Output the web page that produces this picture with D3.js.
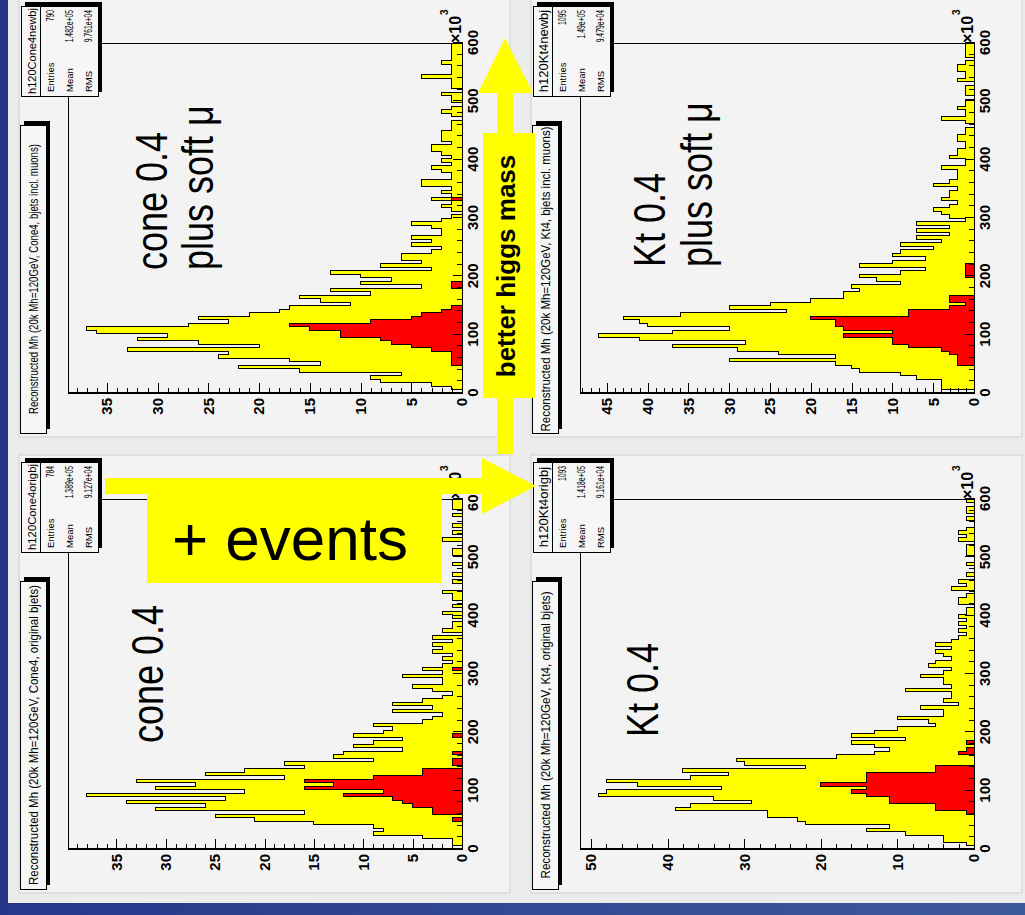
<!DOCTYPE html>
<html>
<head>
<meta charset="utf-8">
<script src="https://cdn.jsdelivr.net/npm/d3@7"></script>
<style>
  body { margin: 0; background: #2a3b88; }
  svg { display: block; }
  text { font-family: "Liberation Sans", Arial, Helvetica, sans-serif; }
</style>
</head>
<body>
<svg id="chart" width="1025" height="915"></svg>
<script>
// bins are 6 (x10^3) wide, 100 bins from 0 to 600
const binWidth = 6;
const massTicks = [0, 100, 200, 300, 400, 500, 600];

// cone 0.4 plus soft mu (all, and red subset)
const coneNewAll = [
  0, 1, 3, 8, 9, 6, 16, 22, 14, 17,
  24, 23, 33, 20, 26, 32, 29, 36, 37, 27,
  23, 26, 21, 18, 17, 11, 14, 16, 9, 13,
  4, 10, 7, 10, 13, 3, 8, 4, 6, 6,
  3, 2, 5, 3, 5, 2, 2, 3, 5, 2,
  1, 0, 1, 2, 1, 3, 1, 2, 1, 4,
  4, 1, 1, 2, 3, 1, 2, 1, 2, 3,
  3, 1, 2, 2, 2, 1, 1, 1, 0, 1,
  2, 1, 0, 1, 1, 2, 0, 1, 1, 1,
  4, 1, 1, 1, 2, 1, 1, 1, 1, 1
];
const coneNewRed = [
  0, 0, 0, 0, 0, 0, 0, 0, 1, 1,
  1, 1, 3, 5, 7, 8, 12, 12, 15, 17,
  9, 5, 4, 2, 1, 0, 0, 0, 0, 0,
  1, 1, 0, 0, 0, 0, 0, 0, 0, 0,
  0, 0, 0, 0, 0, 0, 0, 0, 0, 0,
  0, 0, 0, 0, 0, 1, 0, 0, 0, 0,
  0, 0, 0, 0, 0, 0, 0, 0, 0, 0,
  0, 0, 0, 0, 0, 0, 0, 0, 0, 0,
  0, 0, 0, 0, 0, 0, 0, 0, 0, 0,
  0, 0, 0, 0, 0, 0, 0, 0, 0, 0
];

// Kt 0.4 plus soft mu
const ktNewAll = [
  0, 4, 4, 4, 7, 9, 14, 15, 17, 30,
  17, 24, 29, 37, 28, 41, 46, 37, 30, 40,
  41, 43, 36, 23, 30, 25, 20, 16, 16, 14,
  15, 9, 12, 14, 9, 6, 14, 10, 6, 10,
  9, 5, 9, 4, 7, 3, 7, 3, 7, 1,
  3, 4, 5, 3, 2, 4, 3, 3, 2, 5,
  3, 2, 2, 2, 4, 1, 1, 3, 2, 2,
  1, 1, 2, 2, 1, 1, 0, 1, 4, 1,
  1, 2, 1, 1, 0, 1, 1, 1, 0, 2,
  1, 1, 2, 2, 1, 0, 1, 1, 1, 1
];
const ktNewRed = [
  0, 0, 0, 0, 0, 0, 0, 0, 2, 2,
  2, 3, 4, 8, 10, 10, 16, 10, 16, 17,
  17, 20, 8, 8, 3, 1, 3, 3, 0, 0,
  0, 0, 0, 1, 1, 1, 1, 0, 0, 0,
  0, 0, 0, 0, 0, 0, 0, 0, 0, 0,
  0, 0, 0, 0, 0, 0, 0, 0, 0, 0,
  0, 0, 0, 0, 0, 0, 0, 0, 0, 0,
  0, 0, 0, 0, 0, 0, 0, 0, 0, 0,
  0, 0, 0, 0, 0, 0, 0, 0, 0, 0,
  0, 0, 0, 0, 0, 0, 0, 0, 0, 0
];

// cone 0.4, original bjets
const coneOrigAll = [
  0, 1, 1, 4, 9, 8, 9, 15, 21, 25,
  16, 31, 26, 34, 24, 38, 22, 31, 27, 33,
  18, 26, 22, 16, 18, 9, 13, 12, 6, 11,
  9, 6, 11, 8, 7, 9, 4, 3, 2, 7,
  3, 7, 4, 2, 1, 3, 5, 2, 2, 6,
  2, 4, 2, 1, 2, 1, 3, 2, 3, 1,
  3, 0, 2, 1, 1, 0, 1, 2, 0, 1,
  0, 1, 1, 2, 0, 0, 1, 0, 1, 0,
  0, 1, 0, 0, 1, 1, 0, 0, 2, 0,
  1, 0, 1, 0, 0, 1, 0, 1, 1, 1
];
const coneOrigRed = [
  0, 0, 0, 0, 0, 0, 0, 0, 1, 0,
  3, 3, 5, 6, 7, 12, 8, 16, 13, 16,
  9, 4, 4, 0, 1, 1, 0, 1, 0, 0,
  0, 0, 1, 0, 0, 0, 0, 0, 0, 0,
  0, 0, 0, 0, 0, 0, 0, 0, 0, 0,
  0, 1, 0, 0, 0, 0, 0, 0, 0, 0,
  0, 0, 0, 0, 0, 0, 0, 0, 0, 0,
  0, 0, 0, 0, 0, 0, 0, 0, 0, 0,
  0, 0, 0, 0, 0, 0, 0, 0, 0, 0,
  0, 0, 0, 0, 0, 0, 0, 0, 0, 0
];

// Kt 0.4, original bjets
const ktOrigAll = [
  0, 1, 4, 4, 9, 14, 11, 22, 23, 27,
  27, 39, 37, 29, 34, 49, 48, 33, 44, 48,
  37, 32, 38, 22, 30, 31, 18, 13, 11, 13,
  16, 9, 16, 13, 10, 5, 6, 10, 4, 4,
  7, 2, 4, 3, 3, 9, 3, 4, 4, 7,
  4, 3, 6, 5, 3, 4, 5, 3, 5, 3,
  2, 1, 2, 1, 2, 1, 2, 1, 1, 0,
  2, 2, 1, 0, 3, 1, 2, 0, 1, 0,
  0, 1, 0, 0, 1, 1, 1, 0, 2, 1,
  2, 1, 0, 0, 1, 0, 1, 1, 0, 1
];
const ktOrigRed = [
  0, 0, 0, 0, 0, 0, 0, 0, 0, 0,
  1, 5, 5, 11, 11, 14, 16, 14, 20, 14,
  14, 14, 5, 5, 0, 0, 0, 2, 1, 0,
  1, 0, 0, 0, 0, 0, 0, 0, 0, 0,
  0, 0, 0, 0, 0, 0, 0, 0, 0, 0,
  0, 0, 0, 0, 0, 0, 0, 0, 0, 0,
  0, 0, 0, 0, 0, 0, 0, 0, 0, 0,
  0, 0, 0, 0, 0, 0, 0, 0, 0, 0,
  0, 0, 0, 0, 0, 0, 0, 0, 0, 0,
  0, 0, 0, 0, 0, 0, 0, 0, 0, 0
];

const histNames = ['h120Cone4newbj', 'h120Kt4newbj', 'h120Cone4origbj', 'h120Kt4origbj'];
const titles = [
  'Reconstructed Mh (20k Mh=120GeV, Cone4, bjets incl. muons)',
  'Reconstructed Mh (20k Mh=120GeV, Kt4, bjets incl. muons)',
  'Reconstructed Mh (20k Mh=120GeV, Cone4, original bjets)',
  'Reconstructed Mh (20k Mh=120GeV, Kt4, original bjets)'
];
const entries = ['790', '1095', '784', '1093'];
const means = ['1.482e+05', '1.49e+05', '1.389e+05', '1.418e+05'];
const rmsValues = ['9.761e+04', '9.479e+04', '9.127e+04', '9.161e+04'];
const notes = [['cone 0.4', 'plus soft \u03bc'], ['Kt 0.4', 'plus soft \u03bc'], ['cone 0.4'], ['Kt 0.4']];
const countTicks = [
  [0, 5, 10, 15, 20, 25, 30, 35],
  [0, 5, 10, 15, 20, 25, 30, 35, 40, 45],
  [0, 5, 10, 15, 20, 25, 30, 35],
  [0, 10, 20, 30, 40, 50]
];
const countMinorStep = [1, 1, 1, 2];

const allCounts = [coneNewAll, ktNewAll, coneOrigAll, ktOrigAll];
const redCounts = [coneNewRed, ktNewRed, coneOrigRed, ktOrigRed];

// layout (screen): each ROOT pad is drawn unrotated, then turned -90deg
const panelPos = [
  { left: 19, bottom: 437 }, { left: 531, bottom: 437 },
  { left: 19, bottom: 893 }, { left: 531, bottom: 893 }
];
const padW = 438, padH = 491;
const frame = { left: 44, right: 394, top: 49, bottom: 443 };
const titleLen = [270, 305, 300, 287];
const notePos = [
  { x: 167, y: [148, 194] }, { x: 170, y: [134, 181] },
  { x: 150, y: [144] }, { x: 156, y: [127] }
];

const svg = d3.select('#chart');

const grad = svg.append('defs').append('linearGradient').attr('id', 'bg').attr('x1', '0%').attr('x2', '100%');
grad.append('stop').attr('offset', '0%').attr('stop-color', '#26378a');
grad.append('stop').attr('offset', '100%').attr('stop-color', '#3d5a9c');
svg.append('rect').attr('width', 1025).attr('height', 915).attr('fill', 'url(#bg)');
svg.append('rect').attr('x', 8).attr('y', 0).attr('width', 1017).attr('height', 903).attr('fill', '#ececec');

function styleAxis(sel) {
  sel.attr('font-family', null).attr('font-size', null);
  sel.selectAll('text').attr('font-size', 15).attr('font-weight', 'bold').attr('fill', '#000');
  sel.selectAll('line,path').attr('stroke', '#000').attr('shape-rendering', 'crispEdges');
}

// text squeezed along the pad's x direction, like the squashed original
function squeezed(g, x, y, str, size, sx, anchor, weight) {
  return g.append('text')
    .attr('transform', `translate(${x},${y}) scale(${sx},1)`)
    .attr('font-size', size)
    .attr('font-weight', weight || 'normal')
    .attr('text-anchor', anchor || 'start')
    .text(str);
}

function drawPanel(i) {
  const pos = panelPos[i];
  const all = allCounts[i];
  const red = redCounts[i];

  const g = svg.append('g').attr('transform', `translate(${pos.left},${pos.bottom}) rotate(-90)`);
  g.append('rect').attr('width', padW).attr('height', padH)
    .attr('fill', '#f3f3f3').attr('stroke', '#cfcfcf');

  const yMax = d3.max(all) * 1.05;
  const x = d3.scaleLinear().domain([0, 600]).range([frame.left, frame.right]);
  const y = d3.scaleLinear().domain([0, yMax]).range([frame.bottom, frame.top]);

  const toPoints = (arr) => arr.map((v, k) => ({ m: k * binWidth, v })).concat([{ m: 600, v: 0 }]);
  const area = d3.area().x(d => x(d.m)).y0(y(0)).y1(d => y(d.v)).curve(d3.curveStepAfter);
  const line = d3.line().x(d => x(d.m)).y(d => y(d.v)).curve(d3.curveStepAfter);

  [[all, '#ffff00'], [red, '#ff0000']].forEach(([arr, color]) => {
    const pts = toPoints(arr);
    g.append('path').datum(pts).attr('d', area).attr('fill', color);
    g.append('path').datum(pts).attr('d', line)
      .attr('fill', 'none').attr('stroke', '#000').attr('stroke-width', 1)
      .attr('shape-rendering', 'crispEdges');
  });

  g.append('rect')
    .attr('x', frame.left).attr('y', frame.top)
    .attr('width', frame.right - frame.left).attr('height', frame.bottom - frame.top)
    .attr('fill', 'none').attr('stroke', '#000').attr('shape-rendering', 'crispEdges');

  // mass axis
  g.append('g').attr('transform', `translate(0,${frame.bottom})`)
    .call(d3.axisBottom(x).tickValues(d3.range(0, 601, 20)).tickSize(-5).tickFormat(''))
    .call(styleAxis);
  g.append('g').attr('transform', `translate(0,${frame.bottom})`)
    .call(d3.axisBottom(x).tickValues(massTicks).tickSizeInner(-9).tickSizeOuter(0).tickPadding(5))
    .call(styleAxis);

  // count axis
  g.append('g').attr('transform', `translate(${frame.left},0)`)
    .call(d3.axisLeft(y).tickValues(d3.range(0, yMax, countMinorStep[i])).tickSize(-5).tickFormat(''))
    .call(styleAxis);
  g.append('g').attr('transform', `translate(${frame.left},0)`)
    .call(d3.axisLeft(y).tickValues(countTicks[i]).tickSizeInner(-10).tickSizeOuter(0).tickPadding(5))
    .call(styleAxis);

  g.append('text').attr('x', x(600)).attr('y', frame.bottom - 1)
    .attr('font-size', 16).attr('font-weight', 'bold').text('\u00d710');
  g.append('text').attr('x', x(600) + 28).attr('y', frame.bottom - 14)
    .attr('font-size', 10).attr('font-weight', 'bold').text('3');

  // title box with shadow
  g.append('rect').attr('x', 8).attr('y', 5).attr('width', 308).attr('height', 26).attr('fill', '#000');
  g.append('rect').attr('x', 4).attr('y', 1).attr('width', 308).attr('height', 26)
    .attr('fill', '#f6f6f6').attr('stroke', '#000').attr('shape-rendering', 'crispEdges');
  g.append('text').attr('x', 158).attr('y', 18.5)
    .attr('font-size', 12.5).attr('text-anchor', 'middle')
    .attr('textLength', titleLen[i]).attr('lengthAdjust', 'spacingAndGlyphs')
    .text(titles[i]);

  // stats box with shadow
  const sb = { x: 341, y: 2, w: 90, h: 77 };
  g.append('rect').attr('x', sb.x + 4).attr('y', sb.y + 4).attr('width', sb.w).attr('height', sb.h).attr('fill', '#000');
  g.append('rect').attr('x', sb.x).attr('y', sb.y).attr('width', sb.w).attr('height', sb.h)
    .attr('fill', '#f6f6f6').attr('stroke', '#000').attr('shape-rendering', 'crispEdges');
  g.append('line').attr('x1', sb.x).attr('x2', sb.x + sb.w).attr('y1', sb.y + 19).attr('y2', sb.y + 19)
    .attr('stroke', '#000').attr('shape-rendering', 'crispEdges');
  const name = g.append('text').attr('x', sb.x + sb.w / 2).attr('y', sb.y + 15)
    .attr('font-size', 13).attr('text-anchor', 'middle')
    .text(histNames[i]);
  // shrink the name until it fits inside the box
  const natural = name.node().getComputedTextLength();
  if (natural > sb.w - 4) name.attr('font-size', 13 * (sb.w - 4) / natural);

  const rows = [['Entries', entries[i]], ['Mean', means[i]], ['RMS', rmsValues[i]]];
  rows.forEach(([label, value], r) => {
    const by = sb.y + 33 + r * 19;
    squeezed(g, sb.x + 4, by, label, 9.5, 1);
    squeezed(g, sb.x + sb.w - 4, by, value, 10, 0.68, 'end');
  });

  // big hand-added labels
  notes[i].forEach((str, k) => {
    squeezed(g, notePos[i].x, notePos[i].y[k], str, 45, 0.8);
  });
}

d3.range(4).forEach(drawPanel);

// yellow "better higgs mass" arrow
const up = svg.append('g').attr('fill', '#ffff00');
up.append('rect').attr('x', 497).attr('y', 92).attr('width', 16).attr('height', 362);
up.append('polygon').attr('points', '505,38 478,93 533,93');
up.append('rect').attr('x', 483).attr('y', 133).attr('width', 52).attr('height', 265);
svg.append('text')
  .attr('transform', 'translate(515,266) rotate(-90)')
  .attr('text-anchor', 'middle').attr('font-size', 26).attr('font-weight', 'bold')
  .text('better higgs mass');

// yellow "+ events" arrow
const right = svg.append('g').attr('fill', '#ffff00');
right.append('rect').attr('x', 105).attr('y', 478).attr('width', 378).attr('height', 16);
right.append('polygon').attr('points', '482,458 482,514 536,486');
right.append('rect').attr('x', 147).attr('y', 493).attr('width', 295).attr('height', 90);
svg.append('text')
  .attr('x', 290).attr('y', 560)
  .attr('text-anchor', 'middle').attr('font-size', 62)
  .text('+ events');
</script>
</body>
</html>
